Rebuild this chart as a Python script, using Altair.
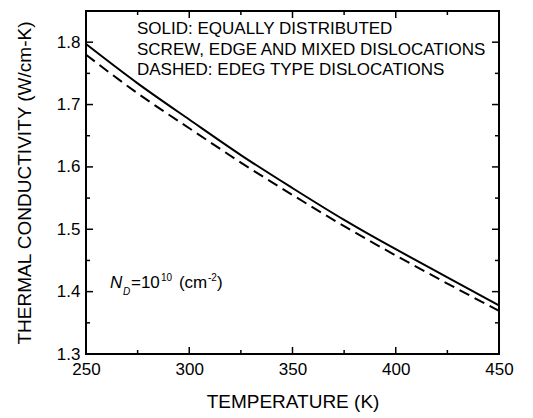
import altair as alt
import pandas as pd

temps = [250, 275, 300, 325, 350, 375, 400, 425, 450]
solid = [1.797, 1.734, 1.676, 1.619, 1.566, 1.515, 1.468, 1.423, 1.378]
dashed = [1.780, 1.718, 1.662, 1.607, 1.555, 1.505, 1.458, 1.413, 1.369]

x_major = [250, 300, 350, 400, 450]
x_minor = [275, 325, 375, 425]
y_major = [1.3, 1.4, 1.5, 1.6, 1.7, 1.8]
y_minor = [1.35, 1.45, 1.55, 1.65, 1.75]

notes = ["SOLID: EQUALLY DISTRIBUTED",
         "SCREW, EDGE AND MIXED DISLOCATIONS",
         "DASHED: EDEG TYPE DISLOCATIONS"]
note_y = [1.821, 1.788, 1.756]

W, H = 413, 343
FONT = "Liberation Sans"

xs = alt.Scale(domain=[250, 450], nice=False)
ys = alt.Scale(domain=[1.3, 1.85], nice=False)

df = pd.DataFrame({"T": temps + temps,
                   "k": solid + dashed,
                   "s": ["solid"] * len(temps) + ["dashed"] * len(temps)})

base_x = alt.X("T:Q", scale=xs,
               axis=alt.Axis(values=x_major, format="d", tickSize=0, labelPadding=7,
                             labelFlush=False,
                             title="TEMPERATURE (K)", titlePadding=15,
                             grid=False, domain=False))
base_y = alt.Y("k:Q", scale=ys,
               axis=alt.Axis(values=y_major, format=".1f", tickSize=0, labelPadding=6,
                             title="THERMAL CONDUCTIVITY (W/cm-K)", titlePadding=22,
                             grid=False, domain=False))

solid_line = alt.Chart(df[df.s == "solid"]).mark_line(
    color="black", strokeWidth=2, interpolate="natural").encode(x=base_x, y=base_y)
dashed_line = alt.Chart(df[df.s == "dashed"]).mark_line(
    color="black", strokeWidth=2, strokeDash=[11, 6], interpolate="natural").encode(
    x="T:Q", y="k:Q")

layers = [solid_line, dashed_line]

def xticks(vals, length):
    d = pd.DataFrame({"T": vals})
    b = alt.Chart(d).mark_rule(color="black", strokeWidth=1.5).encode(
        x=alt.X("T:Q", scale=xs), y=alt.value(H), y2=alt.value(H - length))
    t = alt.Chart(d).mark_rule(color="black", strokeWidth=1.5).encode(
        x=alt.X("T:Q", scale=xs), y=alt.value(0), y2=alt.value(length))
    return [b, t]

def yticks(vals, length):
    d = pd.DataFrame({"k": vals})
    l = alt.Chart(d).mark_rule(color="black", strokeWidth=1.5).encode(
        y=alt.Y("k:Q", scale=ys), x=alt.value(0), x2=alt.value(length))
    r = alt.Chart(d).mark_rule(color="black", strokeWidth=1.5).encode(
        y=alt.Y("k:Q", scale=ys), x=alt.value(W), x2=alt.value(W - length))
    return [l, r]

layers += xticks(x_major, 7) + xticks(x_minor, 4) + yticks(y_major, 7) + yticks(y_minor, 4)

note_df = pd.DataFrame({"T": [274.7] * 3, "k": note_y, "txt": notes})
layers.append(alt.Chart(note_df).mark_text(
    align="left", baseline="middle", font=FONT, fontSize=17, color="black").encode(
    x=alt.X("T:Q", scale=xs), y=alt.Y("k:Q", scale=ys), text="txt:N"))

# N_D = 10^10 (cm^-2)
nd_parts = [
    ("N", 0, 0, 17, "italic"),
    ("D", 13, 9, 10, "italic"),
    ("=10", 21, 0, 17, "normal"),
    ("10", 51, -5, 10, "normal"),
    ("(cm", 69, 0, 17, "normal"),
    ("-2", 98, -5, 10, "normal"),
    (")", 107, 0, 17, "normal"),
]
for txt, dx, dy, fs, style in nd_parts:
    d = pd.DataFrame({"T": [261.6], "k": [1.414], "txt": [txt]})
    layers.append(alt.Chart(d).mark_text(
        align="left", baseline="middle", font=FONT, fontSize=fs, fontStyle=style,
        color="black", dx=dx, dy=dy).encode(
        x=alt.X("T:Q", scale=xs), y=alt.Y("k:Q", scale=ys), text="txt:N"))

chart = alt.layer(*layers).properties(
    width=W, height=H,
    background="white",
    autosize=alt.AutoSizeParams(type="none"),
    padding={"left": 78, "top": 3, "right": 18, "bottom": 62},
).configure_view(stroke="black", strokeWidth=2).configure_axis(
    labelFont=FONT, titleFont=FONT, labelFontSize=17, titleFontSize=19,
    labelColor="black", titleColor="black", titleFontWeight="normal",
)

chart.save("out.html", embed_options={"renderer": "svg", "actions": False})
